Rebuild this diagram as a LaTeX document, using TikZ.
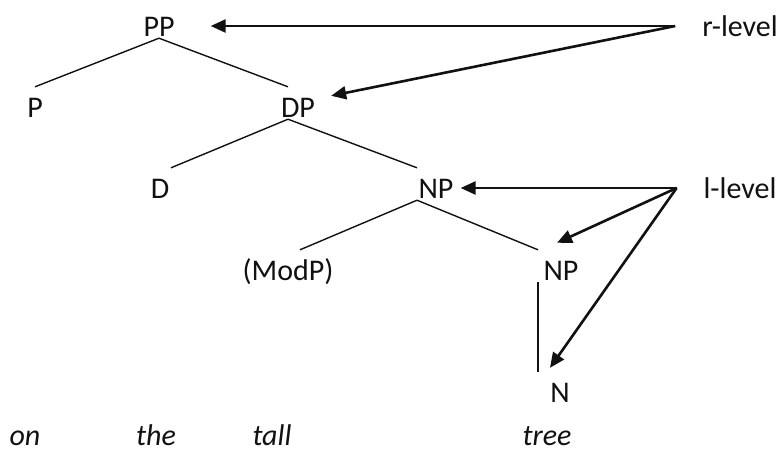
\documentclass[tikz,border=0pt]{standalone}
\usepackage{fontspec}
\setmainfont{Carlito}
\usetikzlibrary{arrows.meta}
\definecolor{treeInk}{HTML}{111111}
\tikzset{
  every node/.style={font=\fontsize{30}{36}\selectfont, text=treeInk},
  cat/.style={anchor=base, inner sep=0pt, text height=30pt, text depth=2pt},
  word/.style={anchor=base, inner sep=0pt, font=\fontsize{30}{36}\selectfont\itshape},
  level/.style={anchor=base, inner sep=0pt, text height=20pt, text depth=0pt, outer xsep=27pt},
  branch/.style={draw=treeInk, line width=1.4pt},
  pointer/.style={
    -{Triangle[length=15pt,width=13pt]},
    draw=treeInk,
    line width=2.6pt
  }
}

\begin{document}
\begin{tikzpicture}[x=1pt,y=-1pt]
  \useasboundingbox (0,0) rectangle (780,451);

  % categories
  \node[cat] (PP)    at (159,36)  {PP};
  \node[cat] (P)     at (35,117)  {P};
  \node[cat] (DP)    at (298,117) {DP};
  \node[cat] (D)     at (160,198) {D};
  \node[cat] (NP)    at (436,198) {NP};
  \node[cat] (ModP)  at (288,280) {(ModP)};
  \node[cat] (NPlow) at (561,280) {NP};
  \node[cat] (N)     at (560,402) {N};

  \foreach \x/\w/\lab in {25/on/on, 156/the/the, 272/tall/tall, 547/tree/tree}{
    \node[word] (w-\w) at (\x,445) {\lab};
  }

  \node[level] (rlev) at (740,36)  {r-level};
  \node[level] (llev) at (740,198) {l-level};

  \draw[branch] (PP.south) -- (P.north);
  \draw[branch] (PP.south) -- ([xshift=-10pt]DP.north);
  \draw[branch] ([xshift=-10pt]DP.south) -- ([xshift=11pt]D.north);
  \draw[branch] ([xshift=-10pt]DP.south) -- ([xshift=-19pt]NP.north);
  \draw[branch] ([xshift=-19pt]NP.south) -- ([xshift=12pt]ModP.north);
  \draw[branch] ([xshift=-19pt]NP.south) -- ([xshift=-23pt]NPlow.north);
  \draw[branch] ([xshift=-23pt]NPlow.south) -- ([xshift=-22pt]N.north);

  \draw[pointer, shorten >=36pt] (rlev.west) -- (rlev.west -| PP.east);
  \draw[pointer] (rlev.west) -- ([shift={(16pt,-9pt)}]DP.north east);
  \draw[pointer, shorten >=7pt] (llev.west) -- (llev.west -| NP.east);
  \draw[pointer] (llev.west) -- ([shift={(-4pt,7pt)}]NPlow.north);
  \draw[pointer] (llev.west) -- ([shift={(-10pt,4pt)}]N.north);
\end{tikzpicture}
\end{document}
